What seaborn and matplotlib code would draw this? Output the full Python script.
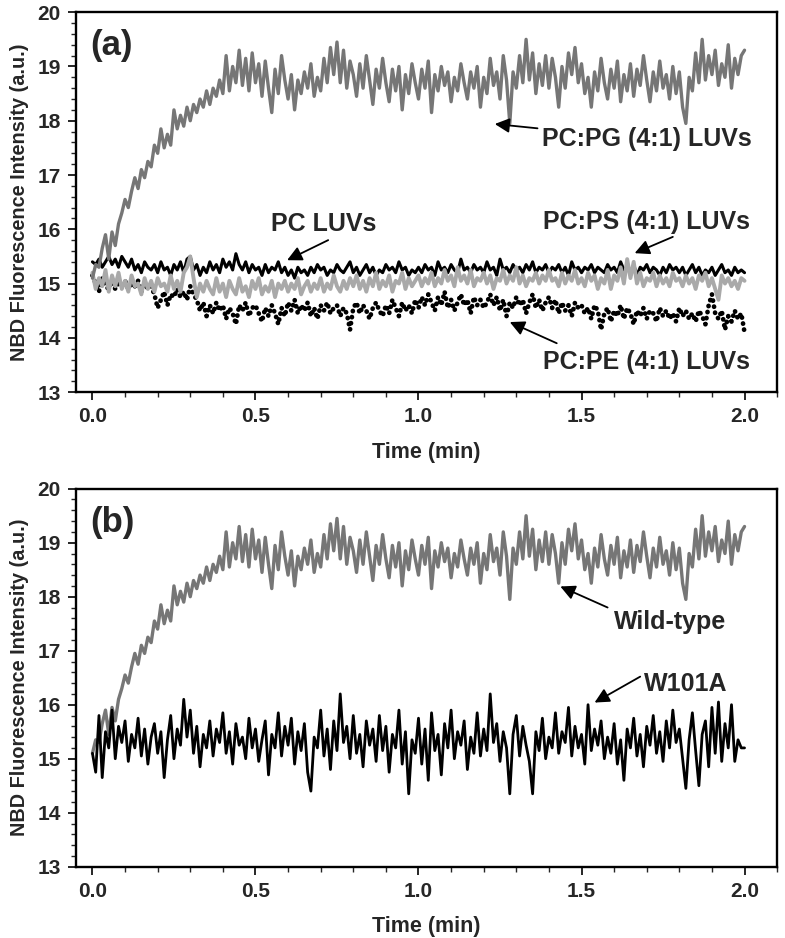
import numpy as np
import pandas as pd
import matplotlib
matplotlib.use("Agg")
import matplotlib.pyplot as plt
from matplotlib.ticker import MultipleLocator
import seaborn as sns

# time axis, one reading every 0.01 min
time_min = np.round(np.arange(201) * 0.01, 2)

# PC:PG (4:1) LUVs -- same trace is the wild-type in panel (b)
pc_pg = [
    15.10, 15.35, 15.30, 15.65, 15.90, 15.45, 15.95, 15.70, 16.10, 16.30,
    16.55, 16.40, 16.70, 16.95, 16.75, 17.10, 16.95, 17.25, 17.15, 17.55,
    17.40, 17.85, 17.50, 17.75, 17.55, 18.20, 17.85, 18.10, 17.90, 18.25,
    18.00, 18.30, 18.15, 18.40, 18.25, 18.55, 18.30, 18.60, 18.45, 18.75,
    18.50, 19.20, 18.55, 19.00, 18.70, 19.30, 18.65, 19.15, 18.55, 19.25,
    18.70, 19.05, 18.45, 19.10, 18.60, 18.15, 18.95, 18.50, 19.20, 18.75,
    18.40, 18.85, 18.20, 18.75, 18.50, 18.90, 18.60, 19.05, 18.45, 18.80,
    18.55, 19.15, 18.70, 19.35, 18.85, 19.45, 18.70, 19.30, 18.60, 19.10,
    18.85, 18.45, 19.05, 18.60, 19.20, 18.75, 18.30, 18.95, 18.60, 19.15,
    18.70, 18.35, 18.95, 18.55, 19.00, 18.20, 18.85, 18.50, 19.05, 18.70,
    18.40, 18.95, 18.60, 19.10, 18.15, 18.85, 18.55, 19.00, 18.65, 18.90,
    18.35, 18.80, 18.55, 19.05, 18.70, 18.40, 18.90, 18.60, 19.00, 18.25,
    18.80, 18.50, 19.15, 18.65, 18.90, 18.40, 19.20, 18.75, 17.95, 18.90,
    18.60, 19.20, 18.70, 19.50, 18.75, 19.25, 18.50, 19.05, 18.65, 19.20,
    18.60, 19.15, 18.80, 18.25, 19.00, 18.60, 19.25, 18.85, 19.35, 18.70,
    19.05, 18.50, 18.80, 18.25, 18.90, 18.55, 19.15, 18.70, 18.40, 18.95,
    18.60, 19.10, 18.35, 18.85, 18.55, 19.05, 18.45, 18.95, 18.65, 19.20,
    18.75, 18.35, 18.90, 18.55, 19.10, 18.60, 18.85, 18.40, 19.00, 18.50,
    18.90, 18.25, 17.95, 18.80, 18.55, 19.25, 18.70, 19.50, 18.75, 19.20,
    18.85, 19.30, 18.65, 19.05, 18.80, 19.40, 18.60, 19.15, 18.85, 19.20,
    19.30,
]

pc_only = [
    15.40, 15.35, 15.45, 15.30, 15.40, 15.50, 15.35, 15.45, 15.30, 15.50,
    15.40, 15.30, 15.45, 15.25, 15.35, 15.20, 15.40, 15.30, 15.25, 15.35,
    15.20, 15.40, 15.25, 15.30, 15.15, 15.35, 15.25, 15.40, 15.20, 15.45,
    15.50, 15.25, 15.35, 15.15, 15.30, 15.20, 15.40, 15.25, 15.35, 15.20,
    15.45, 15.30, 15.40, 15.25, 15.55, 15.35, 15.25, 15.40, 15.20, 15.35,
    15.25, 15.30, 15.15, 15.35, 15.20, 15.30, 15.25, 15.40, 15.20, 15.30,
    15.15, 15.25, 15.10, 15.30, 15.20, 15.25, 15.15, 15.30, 15.20, 15.35,
    15.25, 15.30, 15.15, 15.25, 15.20, 15.35, 15.25, 15.20, 15.30, 15.40,
    15.20, 15.30, 15.15, 15.25, 15.35, 15.20, 15.30, 15.15, 15.25, 15.20,
    15.35, 15.25, 15.30, 15.20, 15.40, 15.25, 15.30, 15.15, 15.25, 15.20,
    15.30, 15.20, 15.35, 15.25, 15.30, 15.15, 15.40, 15.25, 15.30, 15.20,
    15.35, 15.25, 15.20, 15.45, 15.25, 15.30, 15.20, 15.35, 15.25, 15.30,
    15.20, 15.40, 15.25, 15.30, 15.15, 15.45, 15.25, 15.30, 15.20, 15.35,
    15.25, 15.30, 15.20, 15.35, 15.25, 15.40, 15.20, 15.30, 15.25, 15.35,
    15.20, 15.30, 15.25, 15.35, 15.20, 15.30, 15.15, 15.40, 15.25, 15.30,
    15.20, 15.30, 15.25, 15.35, 15.20, 15.30, 15.25, 15.20, 15.35, 15.25,
    15.30, 15.20, 15.40, 15.25, 15.30, 15.20, 15.35, 15.15, 15.30, 15.25,
    15.35, 15.20, 15.30, 15.25, 15.15, 15.30, 15.20, 15.35, 15.25, 15.30,
    15.20, 15.30, 15.15, 15.25, 15.35, 15.20, 15.30, 15.15, 15.25, 15.20,
    15.30, 15.15, 15.25, 15.35, 15.20, 15.25, 15.15, 15.30, 15.20, 15.25,
    15.20,
]

pc_ps = [
    15.20, 14.90, 15.10, 14.95, 15.25, 14.85, 15.15, 14.95, 15.20, 14.90,
    15.05, 14.85, 15.15, 14.95, 15.00, 14.80, 15.10, 14.90, 15.05, 14.85,
    15.10, 14.95, 15.00, 14.85, 15.15, 14.90, 15.05, 14.85, 15.20, 15.30,
    15.50, 15.10, 14.75, 15.00, 14.85, 15.05, 14.90, 14.80, 15.10, 14.85,
    15.00, 14.75, 15.05, 14.90, 14.80, 15.10, 14.85, 14.95, 14.75, 15.05,
    14.90, 15.10, 14.80, 14.95, 14.85, 15.05, 14.75, 15.00, 14.90, 15.05,
    14.85, 15.00, 14.90, 15.10, 14.80, 14.95, 15.05, 14.85, 15.00, 14.90,
    15.10, 14.85, 15.00, 14.90, 15.15, 14.95, 14.85, 15.05, 14.90, 15.10,
    14.95, 15.15, 14.90, 15.05, 14.85, 15.10, 14.95, 15.20, 14.90, 15.05,
    14.95, 15.15, 14.85, 15.05, 15.00, 15.20, 14.90, 15.10, 14.95, 15.05,
    15.15, 14.95, 15.10, 15.00, 15.20, 14.95, 15.10, 15.00, 15.25, 15.05,
    15.15, 14.95, 15.30, 15.05, 15.15, 15.00, 15.25, 14.95, 15.10, 15.05,
    15.20, 15.00, 15.15, 14.90, 15.10, 15.05, 15.25, 15.00, 15.15, 15.05,
    15.30, 15.00, 15.15, 14.95, 15.10, 15.05, 15.20, 15.00, 15.15, 15.05,
    15.25, 15.05, 15.10, 14.95, 15.20, 15.00, 15.15, 15.05, 15.25, 15.00,
    15.10, 14.95, 15.20, 15.05, 15.15, 14.90, 15.10, 15.00, 15.25, 14.90,
    15.15, 15.05, 15.30, 15.00, 15.45, 15.10, 15.40, 15.00, 15.20, 14.95,
    15.10, 15.05, 15.20, 14.95, 15.15, 15.00, 15.10, 14.95, 15.20, 15.05,
    15.10, 14.95, 15.15, 15.00, 15.10, 14.90, 15.15, 15.05, 15.20, 14.95,
    15.10, 14.90, 14.70, 15.15, 15.00, 15.10, 14.95, 15.05, 14.90, 15.10,
    15.05,
]

pc_pe = [
    15.15, 15.00, 14.85, 15.10, 14.95, 14.90, 15.05, 14.90, 15.00, 14.95,
    15.05, 14.90, 15.00, 14.95, 15.05, 14.85, 15.00, 14.90, 14.95, 14.80,
    14.55, 14.70, 14.85, 14.60, 14.80, 14.75, 14.90, 14.75, 14.85, 14.70,
    14.95, 14.80, 14.70, 14.50, 14.65, 14.40, 14.60, 14.45, 14.65, 14.50,
    14.60, 14.35, 14.55, 14.45, 14.25, 14.60, 14.50, 14.65, 14.40, 14.55,
    14.60, 14.45, 14.30, 14.55, 14.40, 14.60, 14.45, 14.25, 14.55, 14.40,
    14.65, 14.50, 14.70, 14.45, 14.60, 14.50, 14.65, 14.40, 14.55, 14.35,
    14.60, 14.50, 14.65, 14.45, 14.55, 14.60, 14.40, 14.55, 14.45, 14.15,
    14.55, 14.65, 14.45, 14.60, 14.50, 14.35, 14.55, 14.65, 14.50, 14.40,
    14.60, 14.45, 14.70, 14.55, 14.40, 14.65, 14.50, 14.60, 14.45, 14.70,
    14.55, 14.75, 14.60, 14.80, 14.65, 14.50, 14.75, 14.60, 14.85, 14.55,
    14.70, 14.50, 14.65, 14.80, 14.60, 14.70, 14.45, 14.75, 14.60, 14.70,
    14.55, 14.65, 14.80, 14.60, 14.75, 14.50, 14.70, 14.40, 14.65, 14.55,
    14.75, 14.60, 14.70, 14.45, 14.65, 14.80, 14.55, 14.70, 14.50, 14.65,
    14.75, 14.55, 14.70, 14.45, 14.65, 14.50, 14.60, 14.40, 14.65, 14.55,
    14.60, 14.45, 14.55, 14.35, 14.60, 14.50, 14.15, 14.45, 14.55, 14.30,
    14.50, 14.40, 14.60, 14.35, 14.55, 14.45, 14.25, 14.50, 14.40, 14.55,
    14.35, 14.50, 14.45, 14.30, 14.55, 14.40, 14.50, 14.35, 14.45, 14.30,
    14.55, 14.40, 14.50, 14.35, 14.45, 14.30, 14.50, 14.40, 14.25, 14.60,
    14.80, 14.45, 14.35, 14.50, 14.15, 14.40, 14.30, 14.50, 14.35, 14.45,
    14.10,
]

w101a = [
    15.10, 14.75, 15.80, 14.65, 15.50, 15.20, 15.90, 15.00, 15.60, 15.30,
    15.70, 14.95, 15.45, 15.20, 15.75, 15.05, 15.55, 14.90, 15.40, 15.65,
    15.10, 15.50, 14.65, 15.35, 15.80, 15.00, 15.55, 15.25, 16.10, 15.40,
    15.90, 15.10, 15.60, 14.85, 15.45, 15.20, 15.70, 15.05, 15.55, 15.30,
    15.85, 15.10, 15.50, 14.90, 15.65, 15.25, 15.40, 15.00, 15.75, 15.20,
    15.55, 14.95, 15.35, 15.70, 14.70, 15.45, 15.20, 15.85, 15.05, 15.60,
    15.25, 15.75, 14.90, 15.50, 15.15, 15.65, 14.75, 14.40, 15.40, 15.20,
    15.90, 15.05, 15.55, 14.80, 15.70, 15.15, 16.20, 15.30, 15.60, 15.00,
    15.80, 15.10, 15.45, 14.85, 15.70, 15.25, 15.55, 14.95, 15.80, 15.15,
    15.60, 14.75, 15.45, 15.20, 15.90, 14.90, 15.50, 14.35, 15.35, 15.10,
    15.75, 14.90, 15.55, 14.60, 15.85, 15.15, 15.45, 14.70, 15.65, 15.20,
    15.90, 15.00, 15.50, 15.25, 15.70, 14.80, 15.40, 15.10, 15.85, 15.05,
    15.55, 15.15, 16.20, 15.30, 15.65, 14.95, 15.50, 15.20, 14.35, 15.45,
    15.80, 15.05, 15.60, 15.25, 14.95, 14.35, 15.50, 15.15, 15.75, 15.00,
    15.40, 15.20, 15.85, 15.10, 15.50, 15.30, 15.95, 15.05, 15.60, 15.20,
    15.45, 14.90, 16.00, 15.15, 15.55, 15.25, 15.70, 15.00, 15.40, 15.10,
    15.65, 14.90, 15.35, 14.60, 15.55, 15.20, 15.75, 15.05, 15.45, 14.85,
    15.60, 15.25, 15.80, 15.10, 15.50, 14.95, 15.70, 15.20, 15.90, 15.30,
    15.55, 15.00, 14.45, 15.35, 15.85, 15.15, 14.50, 15.45, 15.70, 14.85,
    15.95, 15.10, 16.05, 14.95, 15.65, 15.20, 16.00, 14.95, 15.35, 15.20,
    15.20,
]

df_a = pd.DataFrame({"t": time_min, "PG": pc_pg, "PC": pc_only, "PS": pc_ps, "PE": pc_pe})
df_b = pd.DataFrame({"t": time_min, "WT": pc_pg, "W101A": w101a})

sns.set_style("ticks")
plt.rcParams["font.family"] = ["Liberation Sans", "DejaVu Sans"]
plt.rcParams["font.weight"] = "bold"
plt.rcParams["axes.labelweight"] = "bold"

DARK_GRAY = "#767676"
LIGHT_GRAY = "#a9a9a9"

fig = plt.figure(figsize=(7.85, 9.38), dpi=100)
ax_a = fig.add_axes([0.097, 0.582, 0.893, 0.405])
ax_b = fig.add_axes([0.097, 0.076, 0.893, 0.403])

# panel (a)
sns.lineplot(data=df_a, x="t", y="PE", ax=ax_a, color="black", lw=3.4,
             estimator=None)
ax_a.lines[-1].set_linestyle((0, (0.05, 1.25)))
ax_a.lines[-1].set_dash_capstyle("round")
sns.lineplot(data=df_a, x="t", y="PC", ax=ax_a, color="black", lw=2.2, estimator=None)
sns.lineplot(data=df_a, x="t", y="PS", ax=ax_a, color=LIGHT_GRAY, lw=2.8, estimator=None)
sns.lineplot(data=df_a, x="t", y="PG", ax=ax_a, color=DARK_GRAY, lw=2.4, estimator=None)

# panel (b)
sns.lineplot(data=df_b, x="t", y="WT", ax=ax_b, color=DARK_GRAY, lw=2.4, estimator=None)
sns.lineplot(data=df_b, x="t", y="W101A", ax=ax_b, color="black", lw=2.0, estimator=None)

for ax in (ax_a, ax_b):
    ax.set_xlim(-0.05, 2.1)
    ax.set_ylim(13, 20)
    ax.xaxis.set_major_locator(MultipleLocator(0.5))
    ax.xaxis.set_minor_locator(MultipleLocator(0.1))
    ax.yaxis.set_major_locator(MultipleLocator(1))
    ax.yaxis.set_minor_locator(MultipleLocator(0.2))
    ax.xaxis.set_major_formatter(plt.FormatStrFormatter("%.1f"))
    for s in ax.spines.values():
        s.set_visible(True)
        s.set_linewidth(1.7)
        s.set_color("black")
    ax.tick_params(which="major", direction="out", length=6, width=1.4,
                   labelsize=15, pad=5, top=False, right=False)
    ax.tick_params(which="minor", direction="out", length=3.5, width=1.0,
                   top=False, right=False)
    ax.tick_params(axis="x", which="major", pad=5)
    for lab in ax.get_xticklabels() + ax.get_yticklabels():
        lab.set_fontweight("bold")
    ax.set_xlabel("Time (min)", fontsize=15.5, labelpad=11)
    ax.set_ylabel("NBD Fluorescence Intensity (a.u.)", fontsize=14.3, labelpad=6)

arrow = dict(arrowstyle="-|>", color="black", lw=1.3, mutation_scale=22,
             shrinkA=0, shrinkB=0)
lbl = dict(fontsize=18, fontweight="bold", ha="center", va="center")

ax_a.text(0.02, 0.955, "(a)", transform=ax_a.transAxes, fontsize=25,
          fontweight="bold", va="top", ha="left")
ax_a.annotate("", xy=(1.234, 17.94), xytext=(1.365, 17.86), arrowprops=arrow)
ax_a.text(1.70, 17.66, "PC:PG (4:1) LUVs", **lbl)
ax_a.annotate("", xy=(0.597, 15.43), xytext=(0.723, 15.80), arrowprops=arrow)
ax_a.text(0.71, 16.10, "PC LUVs", **lbl)
ax_a.annotate("", xy=(1.663, 15.56), xytext=(1.78, 15.86), arrowprops=arrow)
ax_a.text(1.70, 16.13, "PC:PS (4:1) LUVs", **lbl)
ax_a.annotate("", xy=(1.28, 14.29), xytext=(1.424, 13.90), arrowprops=arrow)
ax_a.text(1.70, 13.55, "PC:PE (4:1) LUVs", **lbl)

ax_b.text(0.02, 0.955, "(b)", transform=ax_b.transAxes, fontsize=25,
          fontweight="bold", va="top", ha="left")
ax_b.annotate("", xy=(1.435, 18.19), xytext=(1.58, 17.80), arrowprops=arrow)
ax_b.text(1.773, 17.54, "Wild-type", **lbl)
ax_b.annotate("", xy=(1.54, 16.04), xytext=(1.68, 16.52), arrowprops=arrow)
ax_b.text(1.82, 16.39, "W101A", **lbl)

fig.savefig("out.png", dpi=100)
